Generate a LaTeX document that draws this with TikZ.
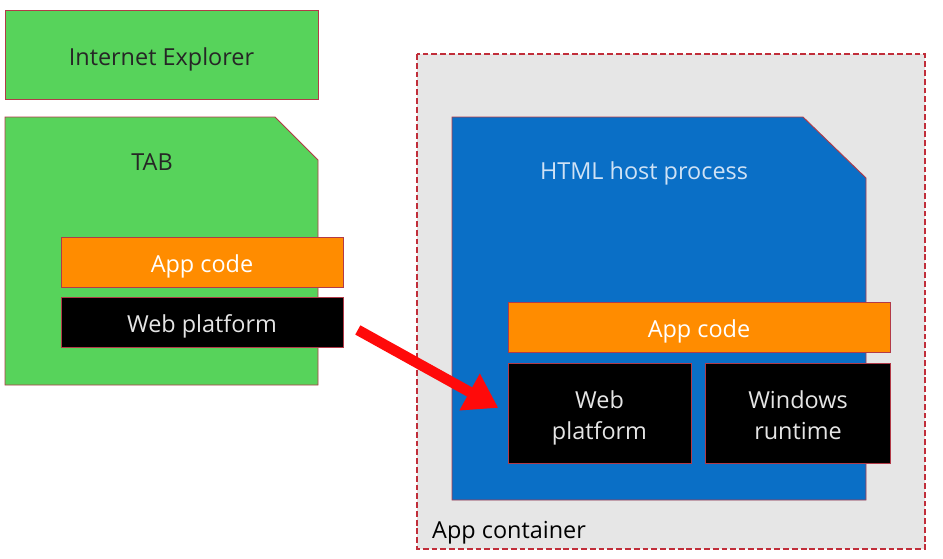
\documentclass[tikz,border=0pt]{standalone}
\usepackage{fontspec}
\setmainfont{Open Sans}
\usetikzlibrary{arrows.meta}

\definecolor{verde}{HTML}{57D35B}
\definecolor{naranja}{HTML}{FF8C00}
\definecolor{azul}{HTML}{0A6FC6}
\definecolor{gris}{HTML}{E6E6E6}
\definecolor{borde}{HTML}{B23A48}
\definecolor{rojo}{HTML}{FF0A0A}
\definecolor{celeste}{HTML}{CFE2F5}

\tikzset{
  caja/.style={draw=borde, line width=0.8pt, inner sep=0pt, align=center,
    font=\fontsize{20}{27}\selectfont, text height=18pt, text depth=0pt},
  cajados/.style={caja, text height=46pt},
  etiqueta/.style={inner sep=0pt, font=\fontsize{20}{27}\selectfont},
  flecha/.style={line width=9pt, rojo, -{Triangle[length=28pt,width=34pt]}}
}

\begin{document}
\begin{tikzpicture}[x=0.03cm,y=-0.03cm]
        \useasboundingbox (0,0) rectangle (943,559);

        % Contenedor
        \draw[fill=gris, draw=borde!80!red, line width=1pt, dash pattern=on 5pt off 2.5pt]
            (417,54) rectangle (925,549);
        \node[etiqueta, anchor=base west] (cont) at (432,538) {App container};

        % Proceso host
        \draw[fill=azul, draw=borde, line width=0.8pt]
            (452,117) -- (803,117) -- (866,178) -- (866,500) -- (452,500) -- cycle;
        \node[etiqueta, text=celeste] (host) at (644,173) {HTML host process};

        % Internet Explorer y pestana
        \node[caja, fill=verde, text=black!85, minimum width=9.39cm, minimum height=2.67cm]
            (ie) at (161.5,54.5) {Internet Explorer};
        \draw[fill=verde, draw=borde, line width=0.8pt]
            (5,117) -- (275,117) -- (318,160) -- (318,385) -- (5,385) -- cycle;
        \node[etiqueta, text=black!85] (tab) at (152,162) {TAB};

        % Cajas izquierda
        \node[caja, fill=naranja, text=white, minimum width=8.46cm, minimum height=1.5cm]
            (appL) at (202,262) {App code};
        \node[caja, fill=black, text=black!10, minimum width=8.46cm, minimum height=1.5cm]
            (wpL) at (202,322) {Web platform};

        % Cajas derecha
        \node[caja, fill=naranja, text=white, minimum width=11.46cm, minimum height=1.5cm]
            (appR) at (699,327) {App code};
        \node[cajados, fill=black, text=black!10, minimum width=5.49cm, minimum height=3cm]
            (wpR) at (599.5,413) {Web\\platform};
        \node[cajados, fill=black, text=black!10, minimum width=5.55cm, minimum height=3cm]
            (wrR) at (798,413) {Windows\\runtime};

        % Flecha
        \draw[flecha, shorten <=14pt, shorten >=9pt] (wpL.east) -- (wpR.west);
    \end{tikzpicture}
\end{document}
